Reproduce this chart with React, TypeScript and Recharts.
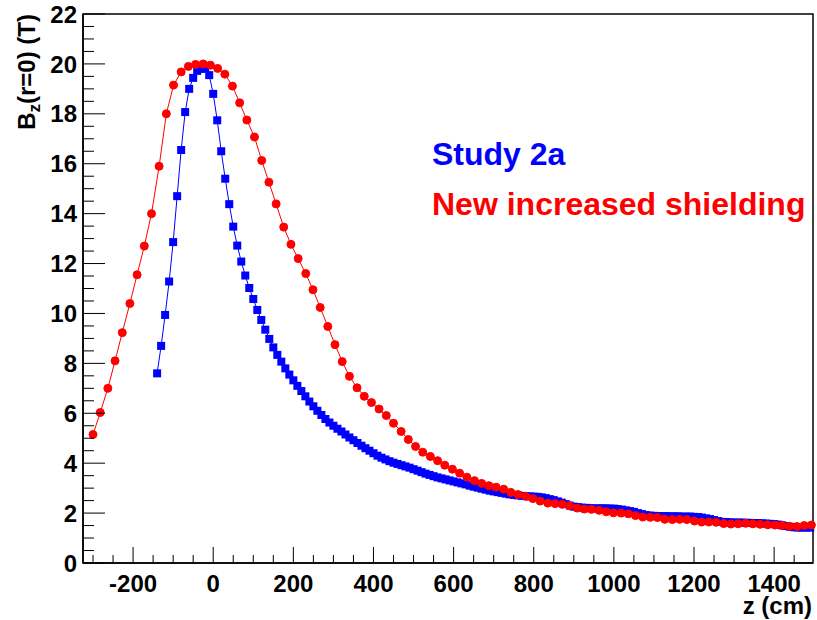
import { ComposedChart, Line, XAxis, YAxis, ReferenceArea } from 'recharts';

// "New increased shielding" (red circles)
const redZ = [
  -300, -282, -263, -245, -227, -208, -190, -172, -154, -135,
  -117, -99, -80, -62, -44, -25, -7, 11, 29, 48,
  66, 84, 103, 121, 139, 157, 176, 194, 212, 231,
  249, 267, 286, 304, 322, 340, 359, 377, 395, 414,
  432, 450, 469, 487, 505, 523, 542, 560, 578, 597,
  615, 633, 652, 670, 688, 706, 725, 743, 761, 780,
  798, 816, 835, 853, 871, 889, 908, 926, 944, 963,
  981, 999, 1018, 1036, 1054, 1072, 1091, 1109, 1127, 1146,
  1164, 1182, 1201, 1219, 1237, 1255, 1274, 1292, 1310, 1329,
  1347, 1365, 1384, 1402, 1420, 1438, 1457, 1475, 1493,
];
const redB = [
  5.15, 6.03, 7.0, 8.1, 9.23, 10.4, 11.55, 12.7, 14.0, 15.9,
  18.0, 19.15, 19.68, 19.9, 19.98, 20.0, 19.95, 19.82, 19.59, 19.11,
  18.44, 17.75, 17.07, 16.13, 15.26, 14.39, 13.46, 12.77, 12.2, 11.6,
  10.95, 10.24, 9.48, 8.75, 8.07, 7.48, 7.02, 6.68, 6.43, 6.17,
  5.91, 5.6, 5.27, 4.95, 4.67, 4.44, 4.27, 4.1, 3.92, 3.76,
  3.6, 3.44, 3.3, 3.19, 3.1, 3.04, 2.96, 2.83, 2.74, 2.67,
  2.58, 2.48, 2.4, 2.38, 2.35, 2.3, 2.2, 2.16, 2.15, 2.11,
  2.05, 2.01, 2.0, 1.97, 1.9, 1.84, 1.83, 1.82, 1.75, 1.74,
  1.75, 1.74, 1.68, 1.64, 1.64, 1.63, 1.58, 1.56, 1.57, 1.59,
  1.57, 1.55, 1.53, 1.52, 1.5, 1.47, 1.46, 1.5, 1.52,
];

// "Study 2a" (blue squares)
const blueZ = [
  -140, -130, -120, -110, -100, -90, -80, -70, -60, -50,
  -40, -30, -20, -10, 0, 10, 20, 30, 40, 50,
  60, 70, 80, 90, 100, 110, 120, 130, 140, 150,
  160, 170, 180, 190, 200, 210, 220, 230, 240, 250,
  260, 270, 280, 290, 300, 310, 320, 330, 340, 350,
  360, 370, 380, 390, 400, 410, 420, 430, 440, 450,
  460, 470, 480, 490, 500, 510, 520, 530, 540, 550,
  560, 570, 580, 590, 600, 610, 620, 630, 640, 650,
  660, 670, 680, 690, 700, 710, 720, 730, 740, 750,
  760, 770, 780, 790, 800, 810, 820, 830, 840, 850,
  860, 870, 880, 890, 900, 910, 920, 930, 940, 950,
  960, 970, 980, 990, 1000, 1010, 1020, 1030, 1040, 1050,
  1060, 1070, 1080, 1090, 1100, 1110, 1120, 1130, 1140, 1150,
  1160, 1170, 1180, 1190, 1200, 1210, 1220, 1230, 1240, 1250,
  1260, 1270, 1280, 1290, 1300, 1310, 1320, 1330, 1340, 1350,
  1360, 1370, 1380, 1390, 1400, 1410, 1420, 1430, 1440, 1450,
  1460, 1470, 1480, 1490,
];
const blueB = [
  7.6, 8.7, 9.94, 11.28, 12.86, 14.7, 16.55, 18.07, 19.0, 19.44,
  19.72, 19.8, 19.82, 19.55, 18.8, 17.74, 16.5, 15.4, 14.38, 13.48,
  12.72, 12.08, 11.52, 11.02, 10.58, 10.14, 9.74, 9.35, 8.98, 8.64,
  8.34, 8.07, 7.8, 7.55, 7.32, 7.1, 6.89, 6.68, 6.47, 6.28,
  6.1, 5.93, 5.77, 5.63, 5.5, 5.38, 5.27, 5.15, 5.03, 4.92,
  4.81, 4.7, 4.6, 4.5, 4.4, 4.3, 4.22, 4.15, 4.08, 4.02,
  3.97, 3.92, 3.87, 3.82, 3.76, 3.7, 3.64, 3.58, 3.53, 3.48,
  3.43, 3.39, 3.35, 3.31, 3.27, 3.23, 3.19, 3.15, 3.1, 3.06,
  3.02, 2.98, 2.94, 2.9, 2.87, 2.84, 2.81, 2.78, 2.75, 2.73,
  2.71, 2.69, 2.68, 2.67, 2.66, 2.65, 2.63, 2.6, 2.56, 2.52,
  2.47, 2.42, 2.36, 2.3, 2.26, 2.24, 2.22, 2.21, 2.2, 2.19,
  2.19, 2.19, 2.19, 2.18, 2.18, 2.16, 2.14, 2.11, 2.08, 2.05,
  2.0, 1.96, 1.92, 1.9, 1.89, 1.88, 1.88, 1.88, 1.87, 1.87,
  1.87, 1.86, 1.86, 1.86, 1.85, 1.84, 1.82, 1.79, 1.76, 1.72,
  1.68, 1.65, 1.64, 1.63, 1.62, 1.62, 1.62, 1.61, 1.61, 1.6,
  1.6, 1.59, 1.58, 1.57, 1.56, 1.54, 1.51, 1.48, 1.45, 1.43,
  1.42, 1.42, 1.42, 1.42,
];

// axis ticks
const xMajorTicks = [-200, 0, 200, 400, 600, 800, 1000, 1200, 1400];
const xMinorTicks = [
  -300, -250, -150, -100, -50, 50, 100, 150, 250, 300, 350, 450, 500, 550,
  650, 700, 750, 850, 900, 950, 1050, 1100, 1150, 1250, 1300, 1350, 1450,
];
const yMajorTicks = [0, 2, 4, 6, 8, 10, 12, 14, 16, 18, 20, 22];
const yMinorTicks = [
  0.5, 1, 1.5, 2.5, 3, 3.5, 4.5, 5, 5.5, 6.5, 7, 7.5, 8.5, 9, 9.5, 10.5, 11, 11.5,
  12.5, 13, 13.5, 14.5, 15, 15.5, 16.5, 17, 17.5, 18.5, 19, 19.5, 20.5, 21, 21.5,
];

const X_DOMAIN: [number, number] = [-325, 1497];
const Y_DOMAIN: [number, number] = [0, 22];

const FONT = '"Liberation Sans", Arial, Helvetica, sans-serif';

const redData = redZ.map((z, i) => ({ z, b: redB[i] }));
const blueData = blueZ.map((z, i) => ({ z, b: blueB[i] }));

const XTick = ({ x, y, payload }: any) => {
  const major = xMajorTicks.includes(payload.value);
  return (
    <g>
      <line x1={x} y1={y} x2={x} y2={y - (major ? 16 : 8)} stroke="#000" strokeWidth={1} />
      {major && (
        <text x={x} y={y + 29} textAnchor="middle" fontFamily={FONT} fontWeight="bold" fontSize={24} fill="#000">
          {payload.value}
        </text>
      )}
    </g>
  );
};

const YTick = ({ x, y, payload }: any) => {
  const major = yMajorTicks.includes(payload.value);
  return (
    <g>
      <line x1={x} y1={y} x2={x + (major ? 22 : 11)} y2={y} stroke="#000" strokeWidth={1} />
      {major && (
        <text x={x - 6} y={y} dy="0.36em" textAnchor="end" fontFamily={FONT} fontWeight="bold" fontSize={24} fill="#000">
          {payload.value}
        </text>
      )}
    </g>
  );
};

const SquareDot = (props: any) => {
  const { cx, cy, index } = props;
  if (cx == null || cy == null) return <g key={`sq-${index}`} />;
  return <rect key={`sq-${index}`} x={cx - 4} y={cy - 4} width={8} height={8} fill="#0000ff" />;
};

export default function App() {
  return (
    <div style={{ position: 'absolute', left: 0, top: 0, width: 817, height: 620, background: '#fff' }}>
      <ComposedChart width={817} height={620} margin={{ top: 14, right: 4, bottom: 17, left: 23 }}>
        <XAxis
          type="number"
          dataKey="z"
          domain={X_DOMAIN}
          ticks={[...xMinorTicks, ...xMajorTicks].sort((a, b) => a - b)}
          interval={0}
          tick={<XTick />}
          tickLine={false}
          tickSize={0}
          tickMargin={0}
          axisLine={{ stroke: '#000', strokeWidth: 1.5 }}
          height={40}
          allowDuplicatedCategory={false}
        />
        <YAxis
          type="number"
          domain={Y_DOMAIN}
          ticks={[...yMinorTicks, ...yMajorTicks].sort((a, b) => a - b)}
          interval={0}
          tick={<YTick />}
          tickLine={false}
          tickSize={0}
          tickMargin={0}
          axisLine={{ stroke: '#000', strokeWidth: 1.5 }}
          width={60}
        />
        <ReferenceArea x1={X_DOMAIN[0]} x2={X_DOMAIN[1]} y1={0} y2={22} fill="none" stroke="#000" strokeWidth={1.5} />
        <Line
          data={blueData}
          dataKey="b"
          type="linear"
          stroke="#0000ff"
          strokeWidth={1}
          dot={SquareDot}
          activeDot={false}
          isAnimationActive={false}
        />
        <Line
          data={redData}
          dataKey="b"
          type="linear"
          stroke="#ff0000"
          strokeWidth={1}
          dot={{ r: 4, fill: '#ff0000', stroke: '#ff0000', strokeWidth: 1 }}
          activeDot={false}
          isAnimationActive={false}
        />
        <text x={35} y={14} transform="rotate(-90 35 14)" textAnchor="end" fontFamily={FONT} fontWeight="bold" fontSize={24} fill="#000">
          B<tspan fontSize={17} dy={5}>z</tspan>
          <tspan dy={-5}>(r=0) (T)</tspan>
        </text>
        <text x={812} y={614} textAnchor="end" fontFamily={FONT} fontWeight="bold" fontSize={24} fill="#000">
          z (cm)
        </text>
        <text x={432} y={165} fontFamily={FONT} fontWeight="bold" fontSize={32} fill="#0000ff">
          Study 2a
        </text>
        <text x={432} y={215} fontFamily={FONT} fontWeight="bold" fontSize={32} fill="#ff0000">
          New increased shielding
        </text>
      </ComposedChart>
    </div>
  );
}
